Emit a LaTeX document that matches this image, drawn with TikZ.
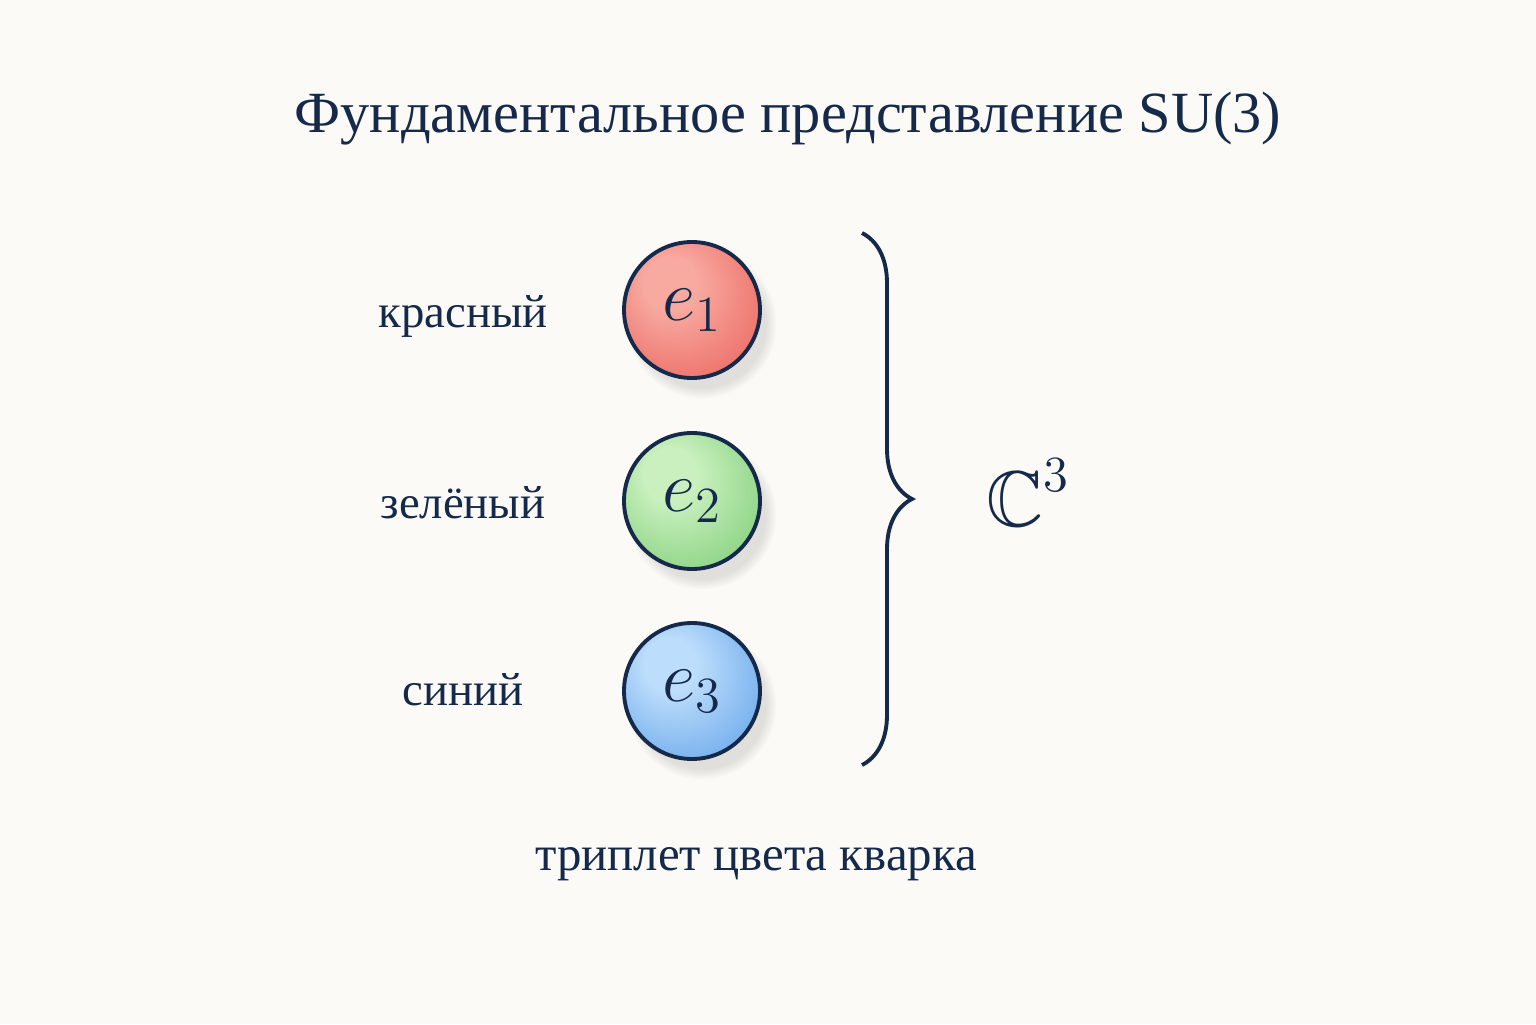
\documentclass[tikz,border=0pt]{standalone}
\usepackage{amssymb}
\usepackage{fontspec}
\setmainfont{Liberation Serif}
\usetikzlibrary{shadows,decorations.pathreplacing}

\definecolor{ink}{HTML}{15294A}
\definecolor{paper}{HTML}{FBFAF6}
\definecolor{redhi}{HTML}{F8A9A0}
\definecolor{redmid}{HTML}{EE7870}
\definecolor{redlo}{HTML}{DE5F58}
\definecolor{greenhi}{HTML}{C9F0BE}
\definecolor{greenmid}{HTML}{94D78C}
\definecolor{greenlo}{HTML}{6FBF6C}
\definecolor{bluehi}{HTML}{BCDDFB}
\definecolor{bluemid}{HTML}{7DB4EF}
\definecolor{bluelo}{HTML}{5591DC}

% offset highlight for the colour balls
\pgfdeclareradialshading{redball}{\pgfpoint{-10bp}{12bp}}{color(0bp)=(redhi);
  color(10bp)=(redhi); color(30bp)=(redmid); color(50bp)=(redlo)}
\pgfdeclareradialshading{greenball}{\pgfpoint{-10bp}{12bp}}{color(0bp)=(greenhi);
  color(10bp)=(greenhi); color(30bp)=(greenmid); color(50bp)=(greenlo)}
\pgfdeclareradialshading{blueball}{\pgfpoint{-10bp}{12bp}}{color(0bp)=(bluehi);
  color(10bp)=(bluehi); color(30bp)=(bluemid); color(50bp)=(bluelo)}

\begin{document}
\begin{tikzpicture}[
    colorball/.style={circle, draw=ink, line width=1.1pt, minimum size=1.36cm, inner sep=0pt,
      text=ink, font=\fontsize{22.5}{22.5}\selectfont,
      circular drop shadow={shadow xshift=2.5pt, shadow yshift=-3.5pt, opacity=0.18, fill=black!60}},
    colorname/.style={anchor=base, text=ink, font=\fontsize{13.3}{13.3}\selectfont}
  ]
  \fill[paper] (0,0) rectangle (15.36,10.24);
  \useasboundingbox (0,0) rectangle (15.36,10.24);

  \node[anchor=base, text=ink, font=\fontsize{16.6}{16.6}\selectfont] (title) at (7.88,8.91)
    {Фундаментальное представление SU(3)};

  % the three basis states
  \node[colorball, shading=redball]   (e1) at (6.92,7.14) {$e_1$};
  \node[colorball, shading=greenball] (e2) at (6.92,5.23) {$e_2$};
  \node[colorball, shading=blueball]  (e3) at (6.92,3.33) {$e_3$};

  \node[colorname] (red)   at (4.63,6.97) {красный};
  \node[colorname] (green) at (4.63,5.06) {зелёный};
  \node[colorname] (blue)  at (4.63,3.19) {синий};

  % brace and space
  \coordinate (bracetop) at (8.62,7.91);
  \coordinate (bracebot) at (8.62,2.59);
  \draw[ink, line width=1.1pt, decorate, decoration={brace, amplitude=0.5cm}]
    (bracetop) -- (bracebot);
  \node[text=ink, font=\fontsize{22.5}{22.5}\selectfont, anchor=base west] (space) at (9.74,4.98)
    {$\mathbb{C}^{\raisebox{0.1em}{$\scriptstyle 3$}}$};

  \node[anchor=base, text=ink, font=\fontsize{13.9}{13.9}\selectfont] (caption) at (7.56,1.54)
    {триплет цвета кварка};
\end{tikzpicture}
\end{document}
